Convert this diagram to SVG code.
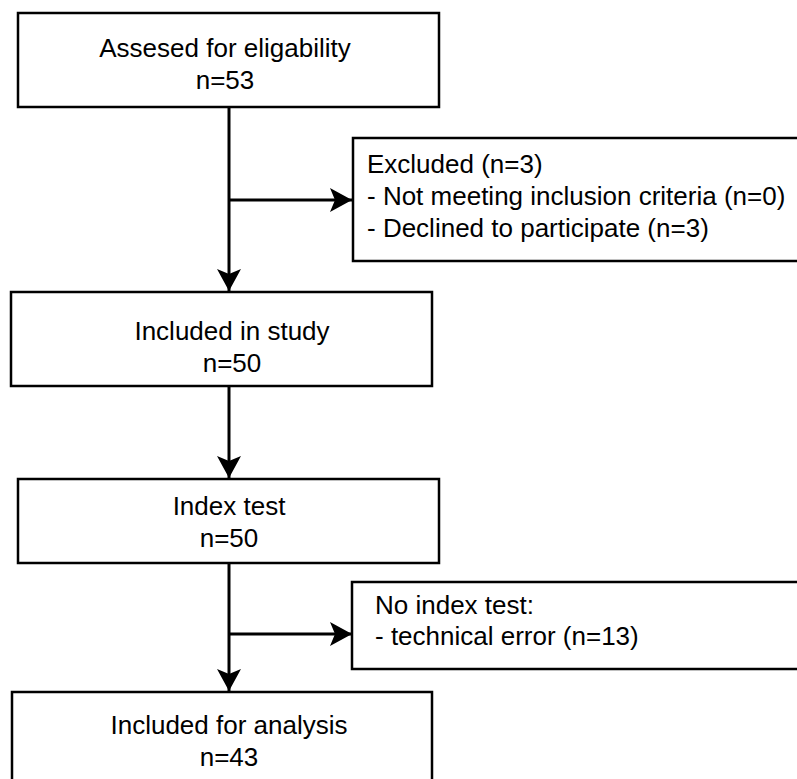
<svg xmlns="http://www.w3.org/2000/svg" width="797" height="779" viewBox="0 0 797 779">
<style>
.box{fill:#fff;stroke:#000;stroke-width:2.5}
.t{font-family:"Liberation Sans",Arial,sans-serif;font-size:26px;fill:#000}
.c{text-anchor:middle}
.edge{fill:none;stroke:#000;stroke-width:3}
</style>
<defs>
<marker id="arr" markerUnits="userSpaceOnUse" viewBox="0 0 22 24" refX="22" refY="12" markerWidth="22" markerHeight="24" orient="auto">
<path d="M0,0 L22,12 L0,24 L5,12 Z" fill="#000"/>
</marker>
</defs>
<rect width="797" height="779" fill="#fff"/>
<g id="connectors">
<line class="edge" x1="229" y1="107" x2="229" y2="291" marker-end="url(#arr)"/>
<line class="edge" x1="229" y1="200" x2="352" y2="200" marker-end="url(#arr)"/>
<line class="edge" x1="229" y1="386" x2="229" y2="478" marker-end="url(#arr)"/>
<line class="edge" x1="229" y1="563" x2="229" y2="691" marker-end="url(#arr)"/>
<line class="edge" x1="229" y1="634" x2="352" y2="634" marker-end="url(#arr)"/>
</g>
<g id="assessed">
<rect class="box" x="18" y="13" width="421" height="94"/>
<text class="t c" x="225" y="57">Assesed for eligability</text>
<text class="t c" x="225" y="89">n=53</text>
</g>
<g id="excluded">
<rect class="box" x="353" y="138" width="450" height="123"/>
<text class="t" x="367" y="173">Excluded (n=3)</text>
<text class="t" x="367" y="205">- Not meeting inclusion criteria (n=0)</text>
<text class="t" x="367" y="237">- Declined to participate (n=3)</text>
</g>
<g id="included">
<rect class="box" x="11" y="292" width="421" height="94"/>
<text class="t c" x="232" y="340">Included in study</text>
<text class="t c" x="232" y="372">n=50</text>
</g>
<g id="index">
<rect class="box" x="18" y="479" width="421" height="84"/>
<text class="t c" x="229" y="515">Index test</text>
<text class="t c" x="229" y="547">n=50</text>
</g>
<g id="noindex">
<rect class="box" x="352" y="582" width="450" height="87"/>
<text class="t" x="375" y="614">No index test:</text>
<text class="t" x="375" y="645">- technical error (n=13)</text>
</g>
<g id="analysis">
<rect class="box" x="12" y="692" width="420" height="100"/>
<text class="t c" x="229" y="734">Included for analysis</text>
<text class="t c" x="229" y="766">n=43</text>
</g>
</svg>
